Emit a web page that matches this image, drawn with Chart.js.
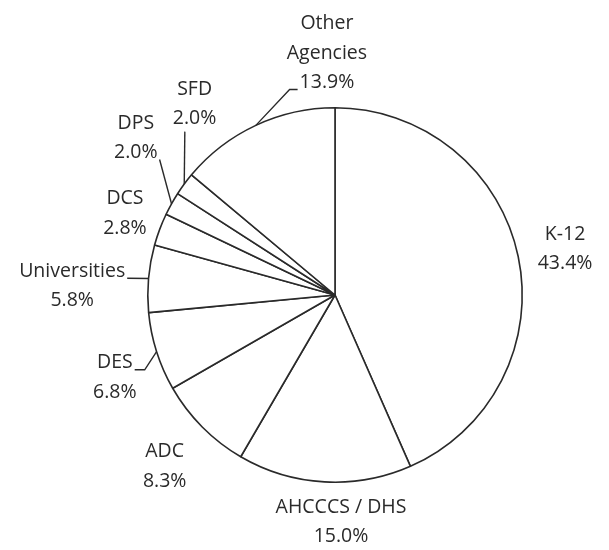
<!DOCTYPE html>
<html>
<head>
<meta charset="utf-8">
<script src="https://cdn.jsdelivr.net/npm/chart.js@4.4.1/dist/chart.umd.min.js"></script>
<style>
  html, body { margin: 0; padding: 0; background: #fff; }
  #wrap { width: 609px; height: 550px; position: relative; }
</style>
</head>
<body>
<div id="wrap"><canvas id="pie"></canvas></div>
<script>
// data, clockwise from 12 o'clock
const agencies = ['K-12', 'AHCCCS / DHS', 'ADC', 'DES', 'Universities', 'DCS', 'DPS', 'SFD', 'Other Agencies'];
const labelLines = [['K-12'], ['AHCCCS / DHS'], ['ADC'], ['DES'], ['Universities'], ['DCS'], ['DPS'], ['SFD'], ['Other', 'Agencies']];
const shares = [43.4, 15.0, 8.3, 6.8, 5.8, 2.8, 2.0, 2.0, 13.9];

// label block centres relative to pie centre, in units of radius
const labelPos = [
  [1.229, -0.245], [0.032, 1.213], [-0.910, 0.915], [-1.176, 0.441],
  [-1.404, -0.048], [-1.122, -0.436], [-1.064, -0.840], [-0.750, -1.021], [-0.043, -1.293]
];
// leader lines: which text line they leave from, which side, tick length
const leaders = [null, null, null,
  { line: 0, side: 'right', tick: 10 },
  { line: 0, side: 'right', tick: 0 },
  null,
  { line: 1, side: 'right', tick: 0 },
  { line: 1, side: 'bottom', tick: 0 },
  { line: 2, side: 'left', tick: 8 }
];

const FONT = '19.5px "Open Sans", sans-serif';
const LINE_H = 29.5;
const INK = '#2a2a2a';

const labelPlugin = {
  id: 'outLabels',
  afterDatasetsDraw(chart) {
    const ctx = chart.ctx;
    const arcs = chart.getDatasetMeta(0).data;
    ctx.save();
    ctx.font = FONT;
    ctx.fillStyle = INK;
    ctx.strokeStyle = INK;
    ctx.lineWidth = 1.4;
    ctx.textAlign = 'center';
    ctx.textBaseline = 'middle';
    arcs.forEach((arc, i) => {
      const p = arc.getProps(['x', 'y', 'startAngle', 'endAngle', 'outerRadius'], true);
      const r = p.outerRadius;
      const lines = labelLines[i].concat([shares[i].toFixed(1) + '%']);
      const cx = p.x + labelPos[i][0] * r;
      const cy = p.y + labelPos[i][1] * r;
      const top = cy - (lines.length - 1) * LINE_H / 2;
      lines.forEach((t, k) => ctx.fillText(t, cx, top + k * LINE_H));
      const ld = leaders[i];
      if (!ld) return;
      const mid = (p.startAngle + p.endAngle) / 2;
      const ex = p.x + Math.cos(mid) * r;
      const ey = p.y + Math.sin(mid) * r;
      const w = ctx.measureText(lines[ld.line]).width;
      const ly = top + ld.line * LINE_H;
      let sx, sy, tx;
      if (ld.side === 'right') { sx = cx + w / 2 + 2; sy = ly + 7; tx = sx + ld.tick; }
      else if (ld.side === 'left') { sx = cx - w / 2 - 2; sy = ly + 7; tx = sx - ld.tick; }
      else { sx = cx - w / 2 + 12; sy = ly + 13; tx = sx; }
      ctx.beginPath();
      ctx.moveTo(sx, sy);
      ctx.lineTo(tx, sy);
      ctx.lineTo(ex, ey);
      ctx.stroke();
    });
    ctx.restore();
  }
};

new Chart(document.getElementById('pie'), {
  type: 'pie',
  data: {
    labels: agencies,
    datasets: [{
      data: shares,
      backgroundColor: '#ffffff',
      borderColor: INK,
      borderWidth: 1.6,
      borderAlign: 'center'
    }]
  },
  options: {
    responsive: true,
    maintainAspectRatio: false,
    animation: false,
    layout: { padding: { left: 147, right: 86, top: 107, bottom: 67 } },
    plugins: { legend: { display: false }, tooltip: { enabled: false } }
  },
  plugins: [labelPlugin]
});
</script>
</body>
</html>
